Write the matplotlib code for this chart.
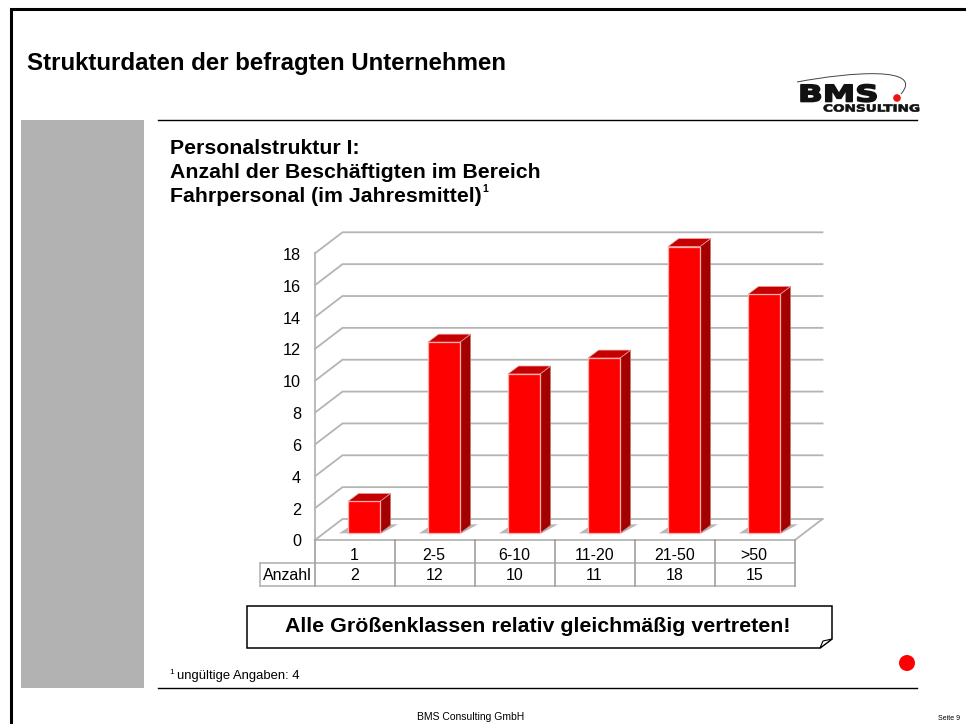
import matplotlib
matplotlib.use("Agg")
import matplotlib.pyplot as plt
import matplotlib.patheffects as pe
from matplotlib.patches import Polygon, Rectangle, Circle, PathPatch
from matplotlib.path import Path
from matplotlib.transforms import Affine2D

plt.rcParams['font.family'] = ['Liberation Sans', 'DejaVu Sans']

categories = ['1', '2-5', '6-10', '11-20', '21-50', '>50']
counts = [2, 12, 10, 11, 18, 15]
y_ticks = [0, 2, 4, 6, 8, 10, 12, 14, 16, 18]


# the logo lettering is an extended heavy face, so widen and thicken a normal text
class StretchX(pe.AbstractPathEffect):
    def __init__(self, sx, stroke=0.0):
        super().__init__()
        self.sx = sx
        self.stroke = stroke

    def draw_path(self, renderer, gc, tpath, affine, rgbFace=None):
        gc0 = renderer.new_gc()
        gc0.copy_properties(gc)
        gc0.set_foreground(rgbFace)
        gc0.set_linewidth(self.stroke)
        renderer.draw_path(gc0, tpath, Affine2D().scale(self.sx, 1) + affine, rgbFace)
        gc0.restore()


W, H = 966, 724
fig = plt.figure(figsize=(W / 100, H / 100), dpi=100, facecolor='white')

# page layer in pixel coordinates
page = fig.add_axes([0, 0, 1, 1])
page.set_xlim(0, W)
page.set_ylim(H, 0)
page.axis('off')

# frame, grey block and rules
page.plot([10.5, 10.5, W], [H, 9, 9], color='black', lw=2.2, solid_joinstyle='miter')
page.add_patch(Rectangle((21, 120), 123, 568, color='#b2b2b2', lw=0))
page.plot([158, 917], [119.5, 119.5], color='black', lw=1)
page.plot([158, 917], [688, 688], color='black', lw=1)

page.text(27, 63.5, 'Strukturdaten der befragten Unternehmen', fontsize=17.3, fontweight='bold', va='center')
page.text(170, 148.5, 'Personalstruktur I:', fontsize=15.3, fontweight='bold', va='center')
page.text(170, 172.5, 'Anzahl der Beschäftigten im Bereich', fontsize=15.3, fontweight='bold', va='center')
page.text(170, 196.5, 'Fahrpersonal (im Jahresmittel)', fontsize=15.3, fontweight='bold', va='center')
page.text(482, 189, '1', fontsize=7.5, fontweight='bold', va='center')

# logo
page.text(798, 101.5, 'BMS', fontsize=16.5, fontweight='bold', family='DejaVu Sans', va='baseline', color='#111111',
          path_effects=[StretchX(1.42, stroke=1.2)])
page.text(823, 111.5, 'CONSULTING', fontsize=6.9, fontweight='bold', family='DejaVu Sans', va='baseline', color='#111111',
          path_effects=[StretchX(1.42, stroke=0.5)])
arc = Path([(797, 82), (850, 72), (925, 66), (901, 94)], [Path.MOVETO, Path.CURVE4, Path.CURVE4, Path.CURVE4])
page.add_patch(PathPatch(arc, fc='none', ec='#444444', lw=0.7))
page.add_patch(Circle((897, 98), 3.8, color='#ee1111', lw=0, zorder=5))

# callout
page.add_patch(Polygon([(247, 606), (832, 606), (832, 639), (820, 648), (247, 648)], closed=True, fc='white', ec='black', lw=1.1))
page.add_patch(Polygon([(820, 648), (823, 641), (832, 639)], closed=True, fc='white', ec='black', lw=0.8))
page.text(538, 626, 'Alle Größenklassen relativ gleichmäßig vertreten!', fontsize=15.4, fontweight='bold', ha='center', va='center')

page.add_patch(Circle((907, 663), 8, color='#ff0000', lw=0))
page.text(169, 673, '1', fontsize=6, va='center')
page.text(177, 676.5, 'ungültige Angaben: 4', fontsize=9.4, va='center')
page.text(471, 716.5, 'BMS Consulting GmbH', fontsize=7.5, ha='center', va='center')
page.text(949, 718, 'Seite 9', fontsize=5, ha='center', va='center')

# chart: front plane runs 315..795 px across and 540..253.3 px up
ax = fig.add_axes([315 / W, 1 - 540 / H, 480 / W, 286.7 / H])
ax.set_xlim(0, 6)
ax.set_ylim(0, 18)
ax.axis('off')
ax.patch.set_alpha(0)

px_x = 6 / 480
px_y = 18 / 286.7
depth_x = 27.5 * px_x
depth_y = 21 * px_y
grid_col = '#b4b4b4'

for t in y_ticks:
    ax.plot([0, depth_x, 6 + depth_x], [t, t + depth_y, t + depth_y], color=grid_col, lw=1.3, clip_on=False, zorder=1)
    ax.text(-14 * px_x, t - 2 * px_y, str(t), fontsize=11.7, ha='right', va='center', clip_on=False)

ax.plot([0, 0], [0, 18], color=grid_col, lw=1.3, clip_on=False, zorder=1)
ax.plot([0, 6, 6 + depth_x], [0, 0, depth_y], color=grid_col, lw=1.3, clip_on=False, zorder=1)

# bars stand a bit behind the front edge of the floor
shift_x = 8.9 * px_x
shift_y = 6.7 * px_y
bar_w = 32 * px_x
bd_x = 10.7 * px_x
bd_y = 8 * px_y

for i, v in enumerate(counts):
    left = i + 0.5 + shift_x - bar_w / 2
    right = left + bar_w
    top = v + shift_y
    # floor shadow
    ax.add_patch(Polygon([(left - 9 * px_x, shift_y), (right + 2 * px_x, shift_y),
                          (right + 18 * px_x, shift_y + 9 * px_y), (left + 5 * px_x, shift_y + 9 * px_y)],
                         closed=True, fc='#b8b8b8', ec='none', zorder=2, clip_on=False))
    # side and top faces
    ax.add_patch(Polygon([(right, shift_y), (right + bd_x, shift_y + bd_y), (right + bd_x, top + bd_y), (right, top)],
                         closed=True, fc='#a40000', ec='#c98080', lw=0.5, zorder=3, clip_on=False))
    ax.add_patch(Polygon([(left, top), (right, top), (right + bd_x, top + bd_y), (left + bd_x, top + bd_y)],
                         closed=True, fc='#c40000', ec='#f0a0a0', lw=0.5, zorder=3, clip_on=False))

ax.bar([i + 0.5 + shift_x for i in range(len(counts))], counts, width=bar_w, bottom=shift_y,
       color='#ff0000', edgecolor='#ffb0b0', linewidth=0.9, zorder=4, clip_on=False)

# data table under the chart
row1 = -23.3 * px_y
row2 = -46 * px_y
left_edge = -55 * px_x
ax.plot([left_edge, 6], [row1, row1], color=grid_col, lw=1.2, clip_on=False)
ax.plot([left_edge, 6], [row2, row2], color=grid_col, lw=1.2, clip_on=False)
ax.plot([left_edge, left_edge], [row1, row2], color=grid_col, lw=1.2, clip_on=False)
for i in range(7):
    ax.plot([i, i], [0, row2], color='#a0a0a0', lw=1.2, clip_on=False)

ax.text(left_edge / 2, (row1 + row2) / 2 - 1 * px_y, 'Anzahl', fontsize=11.5, ha='center', va='center', clip_on=False)
for i, (c, v) in enumerate(zip(categories, counts)):
    ax.text(i + 0.49, -15.5 * px_y, c, fontsize=11.5, ha='center', va='center', clip_on=False)
    ax.text(i + 0.49, -36 * px_y, str(v), fontsize=11.5, ha='center', va='center', clip_on=False)

fig.savefig('out.png', dpi=100)
